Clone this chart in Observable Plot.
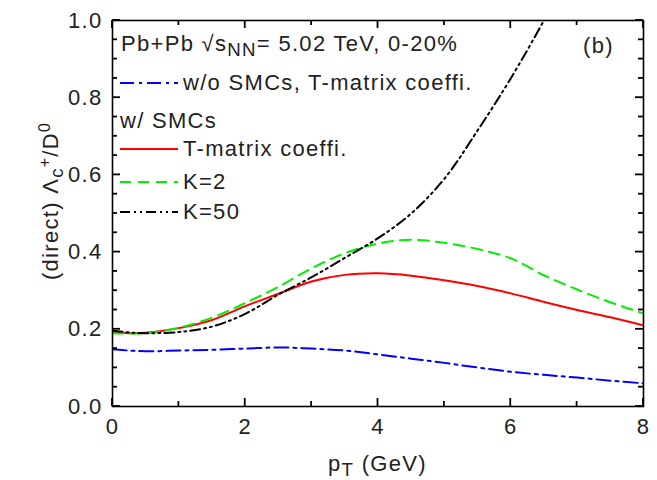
<!DOCTYPE html>
<html>
<head>
<meta charset="utf-8">
<script src="https://cdn.jsdelivr.net/npm/d3@7"></script>
<script src="https://cdn.jsdelivr.net/npm/@observablehq/plot@0.6"></script>
<style>
  html, body { margin: 0; padding: 0; background: #fff; }
  svg { font-family: "Liberation Sans", Arial, sans-serif; }
</style>
</head>
<body>
<div id="chart"></div>
<script>
// ---- data ----
const pT = [0, 0.25, 0.5, 1, 1.5, 2, 2.5, 3, 3.5, 4, 4.5, 5, 5.5, 6, 6.5, 7, 7.5, 8];
const blueWoSMC = [0.148, 0.145, 0.143, 0.145, 0.147, 0.150, 0.153, 0.150, 0.145, 0.135, 0.124, 0.113, 0.101, 0.090, 0.082, 0.075, 0.067, 0.060];
const redTmatrix = [0.193, 0.190, 0.191, 0.203, 0.224, 0.260, 0.292, 0.324, 0.341, 0.345, 0.339, 0.327, 0.312, 0.293, 0.271, 0.250, 0.231, 0.210];
const greenK2 = [0.190, 0.189, 0.190, 0.204, 0.230, 0.268, 0.310, 0.358, 0.397, 0.422, 0.432, 0.424, 0.408, 0.384, 0.340, 0.303, 0.270, 0.241];
const pTK50 = [0, 0.25, 0.5, 1, 1.5, 2, 2.5, 3, 3.5, 4, 4.5, 5, 5.5, 6, 6.5, 6.75];
const blackK50 = [0.197, 0.192, 0.190, 0.193, 0.207, 0.240, 0.290, 0.335, 0.385, 0.436, 0.500, 0.590, 0.715, 0.850, 1.000, 1.080];

const xMajor = [0, 2, 4, 6, 8];
const xMinor = [1, 3, 5, 7];
const yMajor = [0, 0.2, 0.4, 0.6, 0.8, 1.0];
const yMinor = [0.05, 0.1, 0.15, 0.25, 0.3, 0.35, 0.45, 0.5, 0.55, 0.65, 0.7, 0.75, 0.85, 0.9, 0.95];

const series = [
  {key: "w/o SMCs, T-matrix coeffi.", xs: pT, ys: blueWoSMC, color: "#0000ff", dash: "14,5,3,5"},
  {key: "T-matrix coeffi.", xs: pT, ys: redTmatrix, color: "#ff0000", dash: null},
  {key: "K=2", xs: pT, ys: greenK2, color: "#00f000", dash: "11,7"},
  {key: "K=50", xs: pTK50, ys: blackK50, color: "#000000", dash: "10,4,2,4,2,4"}
];

(function () {
const W = 657, H = 480;
const mL = 112, mR = 14, mT = 20, mB = 74;
const FS = 22;
const LS = "1.3px";
const FONT = '"Liberation Sans", Arial, sans-serif';

const lineMarks = series.map(s =>
  Plot.line(s.xs.map((x, i) => ({x, y: s.ys[i]})), {
    x: "x", y: "y", stroke: s.color, strokeWidth: 2,
    strokeDasharray: s.dash, curve: "catmull-rom", clip: true
  })
);

const plot = Plot.plot({
  width: W, height: H,
  marginLeft: mL, marginRight: mR, marginTop: mT, marginBottom: mB,
  style: {fontFamily: FONT, background: "#fff", letterSpacing: LS},
  x: {domain: [0, 8]},
  y: {domain: [0, 1]},
  marks: [
    ...lineMarks,
    Plot.axisX(xMajor, {tickSize: 0, tickPadding: 12, fontSize: FS, fill: "#222", label: null}),
    Plot.axisY(yMajor, {tickSize: 0, tickPadding: 10, fontSize: FS, fill: "#222", label: null, tickFormat: d3.format(".1f")}),
    Plot.frame({stroke: "#000", strokeWidth: 1.6})
  ]
});

document.getElementById("chart").appendChild(plot);

const svg = d3.select(plot);
const X = plot.scale("x"), Y = plot.scale("y");
const pxL = X.apply(0), pxT = Y.apply(1), pxB = Y.apply(0), pxR = X.apply(8);

// inward ticks on all four sides, placed through the plot's scales
const tg = svg.append("g");
function tick(x1, y1, x2, y2) {
  tg.append("path").attr("d", `M${x1},${y1}L${x2},${y2}`)
    .attr("stroke", "#000").attr("stroke-width", 1.8).attr("fill", "none");
}
function xTicks(vals, len) {
  for (const v of vals) {
    const px = X.apply(v);
    tick(px, pxB, px, pxB - len);
    tick(px, pxT, px, pxT + len);
  }
}
function yTicks(vals, len) {
  for (const v of vals) {
    const py = Y.apply(v);
    tick(pxL, py, pxL + len, py);
    tick(pxR, py, pxR - len, py);
  }
}
xTicks(xMajor, 8); xTicks(xMinor, 5);
yTicks(yMajor, 8); yTicks(yMinor, 5);

function rich(parent, x, y, parts, opts = {}) {
  const size = opts.size || FS;
  const t = parent.append("text").attr("x", x).attr("y", y)
    .attr("font-size", size).attr("fill", "#222")
    .attr("font-family", FONT)
    .attr("letter-spacing", LS)
    .attr("text-anchor", opts.anchor || "start");
  if (opts.transform) t.attr("transform", opts.transform);
  for (const p of parts) {
    const s = t.append("tspan").text(p.t);
    if (p.sub) s.attr("baseline-shift", "-25%").attr("font-size", size * 0.85);
    if (p.sup) s.attr("baseline-shift", "50%").attr("font-size", size * 0.72);
  }
  return t;
}

const g = svg.append("g");
rich(g, pxL + 9, pxT + 31, [
  {t: "Pb+Pb \u221As"}, {t: "NN", sub: true}, {t: "= 5.02 TeV, 0-20%"}
]);
rich(g, pxR - 60, pxT + 33, [{t: "(b)"}]);

const legendRows = [
  {s: series[0], y: pxT + 63},
  {label: "w/ SMCs", y: pxT + 100},
  {s: series[1], y: pxT + 129},
  {s: series[2], y: pxT + 162},
  {s: series[3], y: pxT + 192}
];
for (const r of legendRows) {
  if (r.s) {
    g.append("line").attr("x1", pxL + 8).attr("x2", pxL + 66)
      .attr("y1", r.y).attr("y2", r.y)
      .attr("stroke", r.s.color).attr("stroke-width", 2.2)
      .attr("stroke-dasharray", r.s.dash);
    rich(g, pxL + 71, r.y + 7, [{t: r.s.key}]);
  } else {
    rich(g, pxL + 8, r.y + 8, [{t: r.label}]);
  }
}

rich(svg, (pxL + pxR) / 2, H - 9, [{t: "p"}, {t: "T", sub: true}, {t: " (GeV)"}], {anchor: "middle"});
rich(svg, 0, 0, [
  {t: "(direct) \u039B"}, {t: "c", sub: true}, {t: "+", sup: true}, {t: "/D"}, {t: "0", sup: true}
], {anchor: "middle", transform: `translate(58,${(pxT + pxB) / 2 - 12}) rotate(-90)`});
})();
</script>
</body>
</html>
